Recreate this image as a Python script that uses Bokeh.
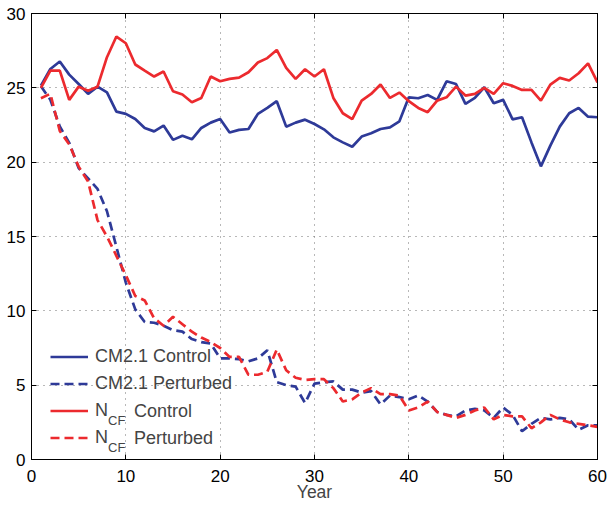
from bokeh.plotting import figure
from bokeh.models import Range1d, FixedTicker, LinearAxis, Legend, LegendItem, Label
from bokeh.embed import file_html
from bokeh.resources import INLINE

years = list(range(1, 61))

cm21_control = [25.15, 26.27, 26.77, 25.89, 25.26, 24.59, 25.08, 24.70, 23.40, 23.25,
                22.90, 22.30, 22.07, 22.46, 21.50, 21.78, 21.54, 22.30, 22.66, 22.90,
                22.00, 22.17, 22.23, 23.25, 23.65, 24.10, 22.39, 22.66, 22.86, 22.57,
                22.21, 21.67, 21.33, 21.04, 21.72, 21.94, 22.23, 22.34, 22.75, 24.36,
                24.30, 24.52, 24.19, 25.44, 25.26, 23.92, 24.32, 25.04, 23.96, 24.19,
                22.88, 23.02, 21.33, 19.72, 21.11, 22.39, 23.29, 23.65, 23.06, 23.02]

ncf_control = [25.00, 26.16, 26.16, 24.19, 25.08, 24.80, 25.08, 27.06, 28.45, 28.00,
               26.57, 26.16, 25.76, 26.10, 24.77, 24.55, 24.03, 24.32, 25.76, 25.44,
               25.60, 25.69, 26.05, 26.70, 27.00, 27.55, 26.34, 25.60, 26.25, 25.76,
               26.25, 24.32, 23.29, 22.90, 24.14, 24.59, 25.22, 24.32, 24.68, 24.10,
               23.65, 23.36, 24.14, 24.36, 25.08, 24.48, 24.59, 25.00, 24.59, 25.31,
               25.13, 24.86, 24.86, 24.14, 25.22, 25.67, 25.49, 25.98, 26.65, 25.37]

cm21_perturbed = [25.1, 24.2, 22.4, 21.3, 19.6, 18.9, 18.2, 16.7, 14.3, 11.9,
                  10.1, 9.25, 9.2, 9.0, 8.7, 8.6, 8.1, 7.9, 7.8, 6.8,
                  6.8, 6.75, 6.6, 6.8, 7.35, 5.2, 5.0, 4.9, 3.8, 5.1,
                  5.2, 5.25, 4.7, 4.7, 4.5, 4.6, 3.7, 4.3, 4.2, 4.05,
                  4.3, 3.9, 3.2, 3.0, 2.9, 3.3, 3.4, 3.3, 2.8, 3.5,
                  3.0, 1.9, 2.4, 2.8, 2.7, 2.8, 2.7, 2.0, 2.3, 2.3]

ncf_perturbed = [24.3, 24.6, 22.1, 21.2, 19.7, 18.7, 16.1, 15.0, 13.7, 12.4,
                 11.0, 10.7, 9.5, 9.0, 9.6, 9.1, 8.6, 8.2, 7.9, 7.5,
                 6.9, 6.9, 5.7, 5.7, 5.9, 7.4, 6.0, 5.5, 5.35, 5.4,
                 5.4, 4.8, 3.9, 4.05, 4.5, 4.8, 4.4, 4.4, 4.3, 3.3,
                 3.5, 3.9, 3.2, 3.0, 2.8, 3.0, 3.3, 3.5, 2.7, 3.0,
                 2.9, 2.9, 2.1, 2.5, 3.0, 2.7, 2.5, 2.4, 2.3, 2.2]

x_ticks = [0, 10, 20, 30, 40, 50, 60]
y_ticks = [0, 5, 10, 15, 20, 25, 30]

BLUE = "#2e3a98"
RED = "#ec2a2e"
FONT = "Liberation Sans"

p = figure(width=614, height=506, x_range=Range1d(0, 60), y_range=Range1d(0, 30),
           output_backend="svg", toolbar_location=None,
           min_border_left=31, min_border_right=17, min_border_top=13, min_border_bottom=47)
p.outline_line_color = "black"
p.outline_line_width = 1
p.background_fill_color = "white"

for ax in (p.xaxis[0], p.yaxis[0]):
    ax.major_tick_in = 5
    ax.major_tick_out = 0
    ax.minor_tick_in = 0
    ax.minor_tick_out = 0
    ax.axis_line_color = "black"
    ax.major_tick_line_color = "black"
    ax.major_label_text_font = FONT
    ax.major_label_text_font_size = "17px"
    ax.major_label_text_color = "black"

p.xaxis[0].ticker = FixedTicker(ticks=x_ticks)
p.yaxis[0].ticker = FixedTicker(ticks=y_ticks)
p.xaxis[0].major_label_standoff = 10
p.yaxis[0].major_label_standoff = 6
p.xaxis[0].axis_label = "Year"
p.xaxis[0].axis_label_text_font = FONT
p.xaxis[0].axis_label_text_font_size = "17.5px"
p.xaxis[0].axis_label_text_font_style = "normal"
p.xaxis[0].axis_label_standoff = -3

top = LinearAxis(ticker=FixedTicker(ticks=x_ticks), major_tick_in=5, major_tick_out=0,
                 minor_tick_in=0, minor_tick_out=0, major_label_text_font_size="1px",
                 major_label_text_color=None, major_label_standoff=0)
right = LinearAxis(ticker=FixedTicker(ticks=y_ticks), major_tick_in=5, major_tick_out=0,
                   minor_tick_in=0, minor_tick_out=0, major_label_text_font_size="1px",
                   major_label_text_color=None, major_label_standoff=0)
p.add_layout(top, "above")
p.add_layout(right, "right")

p.xgrid.ticker = FixedTicker(ticks=x_ticks)
p.ygrid.ticker = FixedTicker(ticks=y_ticks)
for g in (p.xgrid[0], p.ygrid[0]):
    g.grid_line_color = "#707070"
    g.grid_line_dash = "1 5"
    g.grid_line_width = 1

r1 = p.line(years, cm21_control, line_color=BLUE, line_width=2.7)
r2 = p.line(years, cm21_perturbed, line_color=BLUE, line_width=2.7, line_dash="9 5")
r3 = p.line(years, ncf_control, line_color=RED, line_width=2.7)
r4 = p.line(years, ncf_perturbed, line_color=RED, line_width=2.7, line_dash="9 5")

legend = Legend(items=[LegendItem(label="CM2.1 Control", renderers=[r1]),
                       LegendItem(label="CM2.1 Perturbed", renderers=[r2]),
                       LegendItem(label="N", renderers=[r3]),
                       LegendItem(label="N", renderers=[r4])],
                location=(19, 11), padding=0, margin=0, spacing=6,
                glyph_width=38, glyph_height=21, label_height=21, label_standoff=7,
                label_text_font=FONT, label_text_font_size="18px",
                border_line_alpha=0, background_fill_alpha=0)
p.add_layout(legend)

# subscript and remaining words of the N_CF entries
for y_word, y_sub, word in ((48.5, 39.5, "Control"), (21.5, 12.5, "Perturbed")):
    p.add_layout(Label(x=76.5, y=y_sub, x_units="screen", y_units="screen", text="CF",
                       text_font=FONT, text_font_size="13px", text_baseline="middle"))
    p.add_layout(Label(x=102.5, y=y_word, x_units="screen", y_units="screen", text=word,
                       text_font=FONT, text_font_size="18px", text_baseline="middle"))

open("out.html", "w").write(file_html(p, INLINE))
